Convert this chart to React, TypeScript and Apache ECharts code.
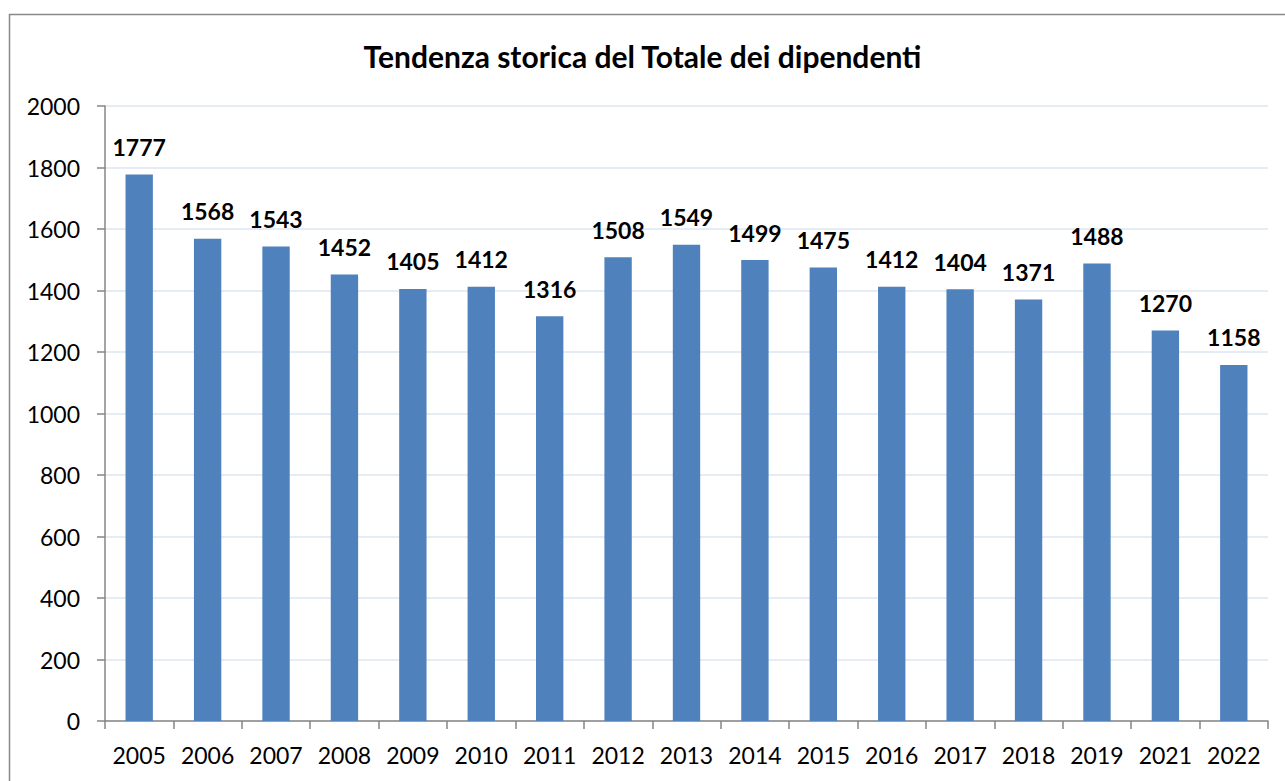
import React, { useEffect, useRef } from "react";
import * as echarts from "echarts";

const categories = ["2005","2006","2007","2008","2009","2010","2011","2012","2013","2014","2015","2016","2017","2018","2019","2021","2022"];
const values = [1777,1568,1543,1452,1405,1412,1316,1508,1549,1499,1475,1412,1404,1371,1488,1270,1158];
const yTicks = { min: 0, max: 2000, interval: 200 };
const title = "Tendenza storica del Totale dei dipendenti";

export default function App() {
  const ref = useRef<HTMLDivElement>(null);
  useEffect(() => {
    if (!ref.current) return;
    const chart = echarts.init(ref.current, null, { renderer: "svg" });
    const font = "Lato, 'Open Sans', sans-serif";
    chart.setOption({
      animation: false,
      backgroundColor: "#ffffff",
      textStyle: { fontFamily: font },
      title: {
        text: title,
        left: "center",
        top: 36,
        textStyle: { fontFamily: font, fontSize: 30, fontWeight: "bold", color: "#000" },
      },
      graphic: [
        {
          type: "rect",
          shape: { x: 9.5, y: 14.5, width: 1300, height: 800 },
          style: { fill: "none", stroke: "#888888", lineWidth: 1.5 },
          silent: true,
        },
      ],
      grid: { left: 105, right: 17, top: 106, bottom: 60, containLabel: false },
      xAxis: {
        type: "category",
        data: categories,
        axisLine: { lineStyle: { color: "#868686", width: 1.5 } },
        axisTick: { show: true, length: 8, interval: 0, alignWithLabel: false, lineStyle: { color: "#868686", width: 1.5 } },
        axisLabel: { color: "#000", fontSize: 23, fontFamily: font, margin: 22, interval: 0, hideOverlap: false },
      },
      yAxis: {
        type: "value",
        min: yTicks.min,
        max: yTicks.max,
        interval: yTicks.interval,
        axisLine: { show: true, lineStyle: { color: "#868686", width: 1.5 } },
        axisTick: { show: true, length: 8, lineStyle: { color: "#868686", width: 1.5 } },
        axisLabel: { color: "#000", fontSize: 23, fontFamily: font, margin: 25, formatter: (v: number) => String(v) },
        splitLine: { show: true, lineStyle: { color: "#dce6f2", width: 1.5 } },
      },
      series: [
        {
          type: "bar",
          data: values,
          barCategoryGap: "60%",
          itemStyle: { color: "#4f81bd" },
          label: {
            show: true,
            position: "top",
            distance: 16,
            color: "#000",
            fontSize: 23,
            fontWeight: "bold",
            fontFamily: font,
          },
        },
      ],
    });
    return () => chart.dispose();
  }, []);
  return (
    <div
      ref={ref}
      style={{ position: "fixed", left: 0, top: 0, width: 1285, height: 781 }}
    />
  );
}
